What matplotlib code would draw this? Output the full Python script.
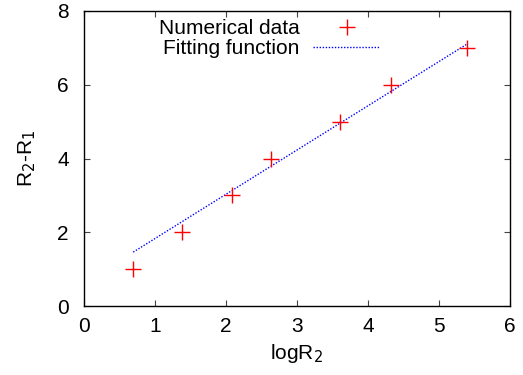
import numpy as np
import matplotlib
matplotlib.use("Agg")
import matplotlib.pyplot as plt

plt.rcParams['font.family'] = ['Liberation Sans', 'DejaVu Sans']

x_data = [0.693, 1.386, 2.079, 2.639, 3.611, 4.317, 5.394]
y_data = [1, 2, 3, 4, 5, 6, 7]
fit_slope = 1.2
fit_intercept = 0.63

fig = plt.figure(figsize=(5.23, 3.75), dpi=100)
ax = fig.add_axes([84/523, 1-306/375, (510-84)/523, (306-11)/375])

xf = np.linspace(min(x_data), max(x_data), 50)
ax.plot(xf, fit_slope*xf + fit_intercept, color='#0000ff', linestyle=(0, (1, 1.2)),
        linewidth=1.0, label='Fitting function', zorder=2)
ax.plot(x_data, y_data, linestyle='none', marker='+', color='#ff0000', markersize=12,
        markeredgewidth=1.0, label='Numerical data', zorder=3)

ax.set_xlim(0, 6)
ax.set_ylim(0, 8)
ax.set_xticks(range(0, 7))
ax.set_yticks(range(0, 9, 2))
ax.tick_params(direction='in', top=True, right=True, labelsize=15, length=4,
               color='#444444')
ax.tick_params(axis='x', pad=8)
ax.tick_params(axis='y', pad=11)
for s in ax.spines.values():
    s.set_linewidth(1.0)
ax.set_xlabel('logR$_2$', fontsize=15, labelpad=4)
ax.set_ylabel('R$_2$-R$_1$', fontsize=15, labelpad=14)

h, l = ax.get_legend_handles_labels()
leg = ax.legend([h[1], h[0]], [l[1], l[0]], loc='upper right',
                bbox_to_anchor=((380-84)/426, 1 - 8/295),
                frameon=False, markerfirst=False, fontsize=15, handlelength=3.2,
                handletextpad=0.65, labelspacing=0.05, borderaxespad=0.0, borderpad=0.0)
for t in leg.get_texts():
    t.set_ha('right')

fig.savefig('out.png', dpi=100)
